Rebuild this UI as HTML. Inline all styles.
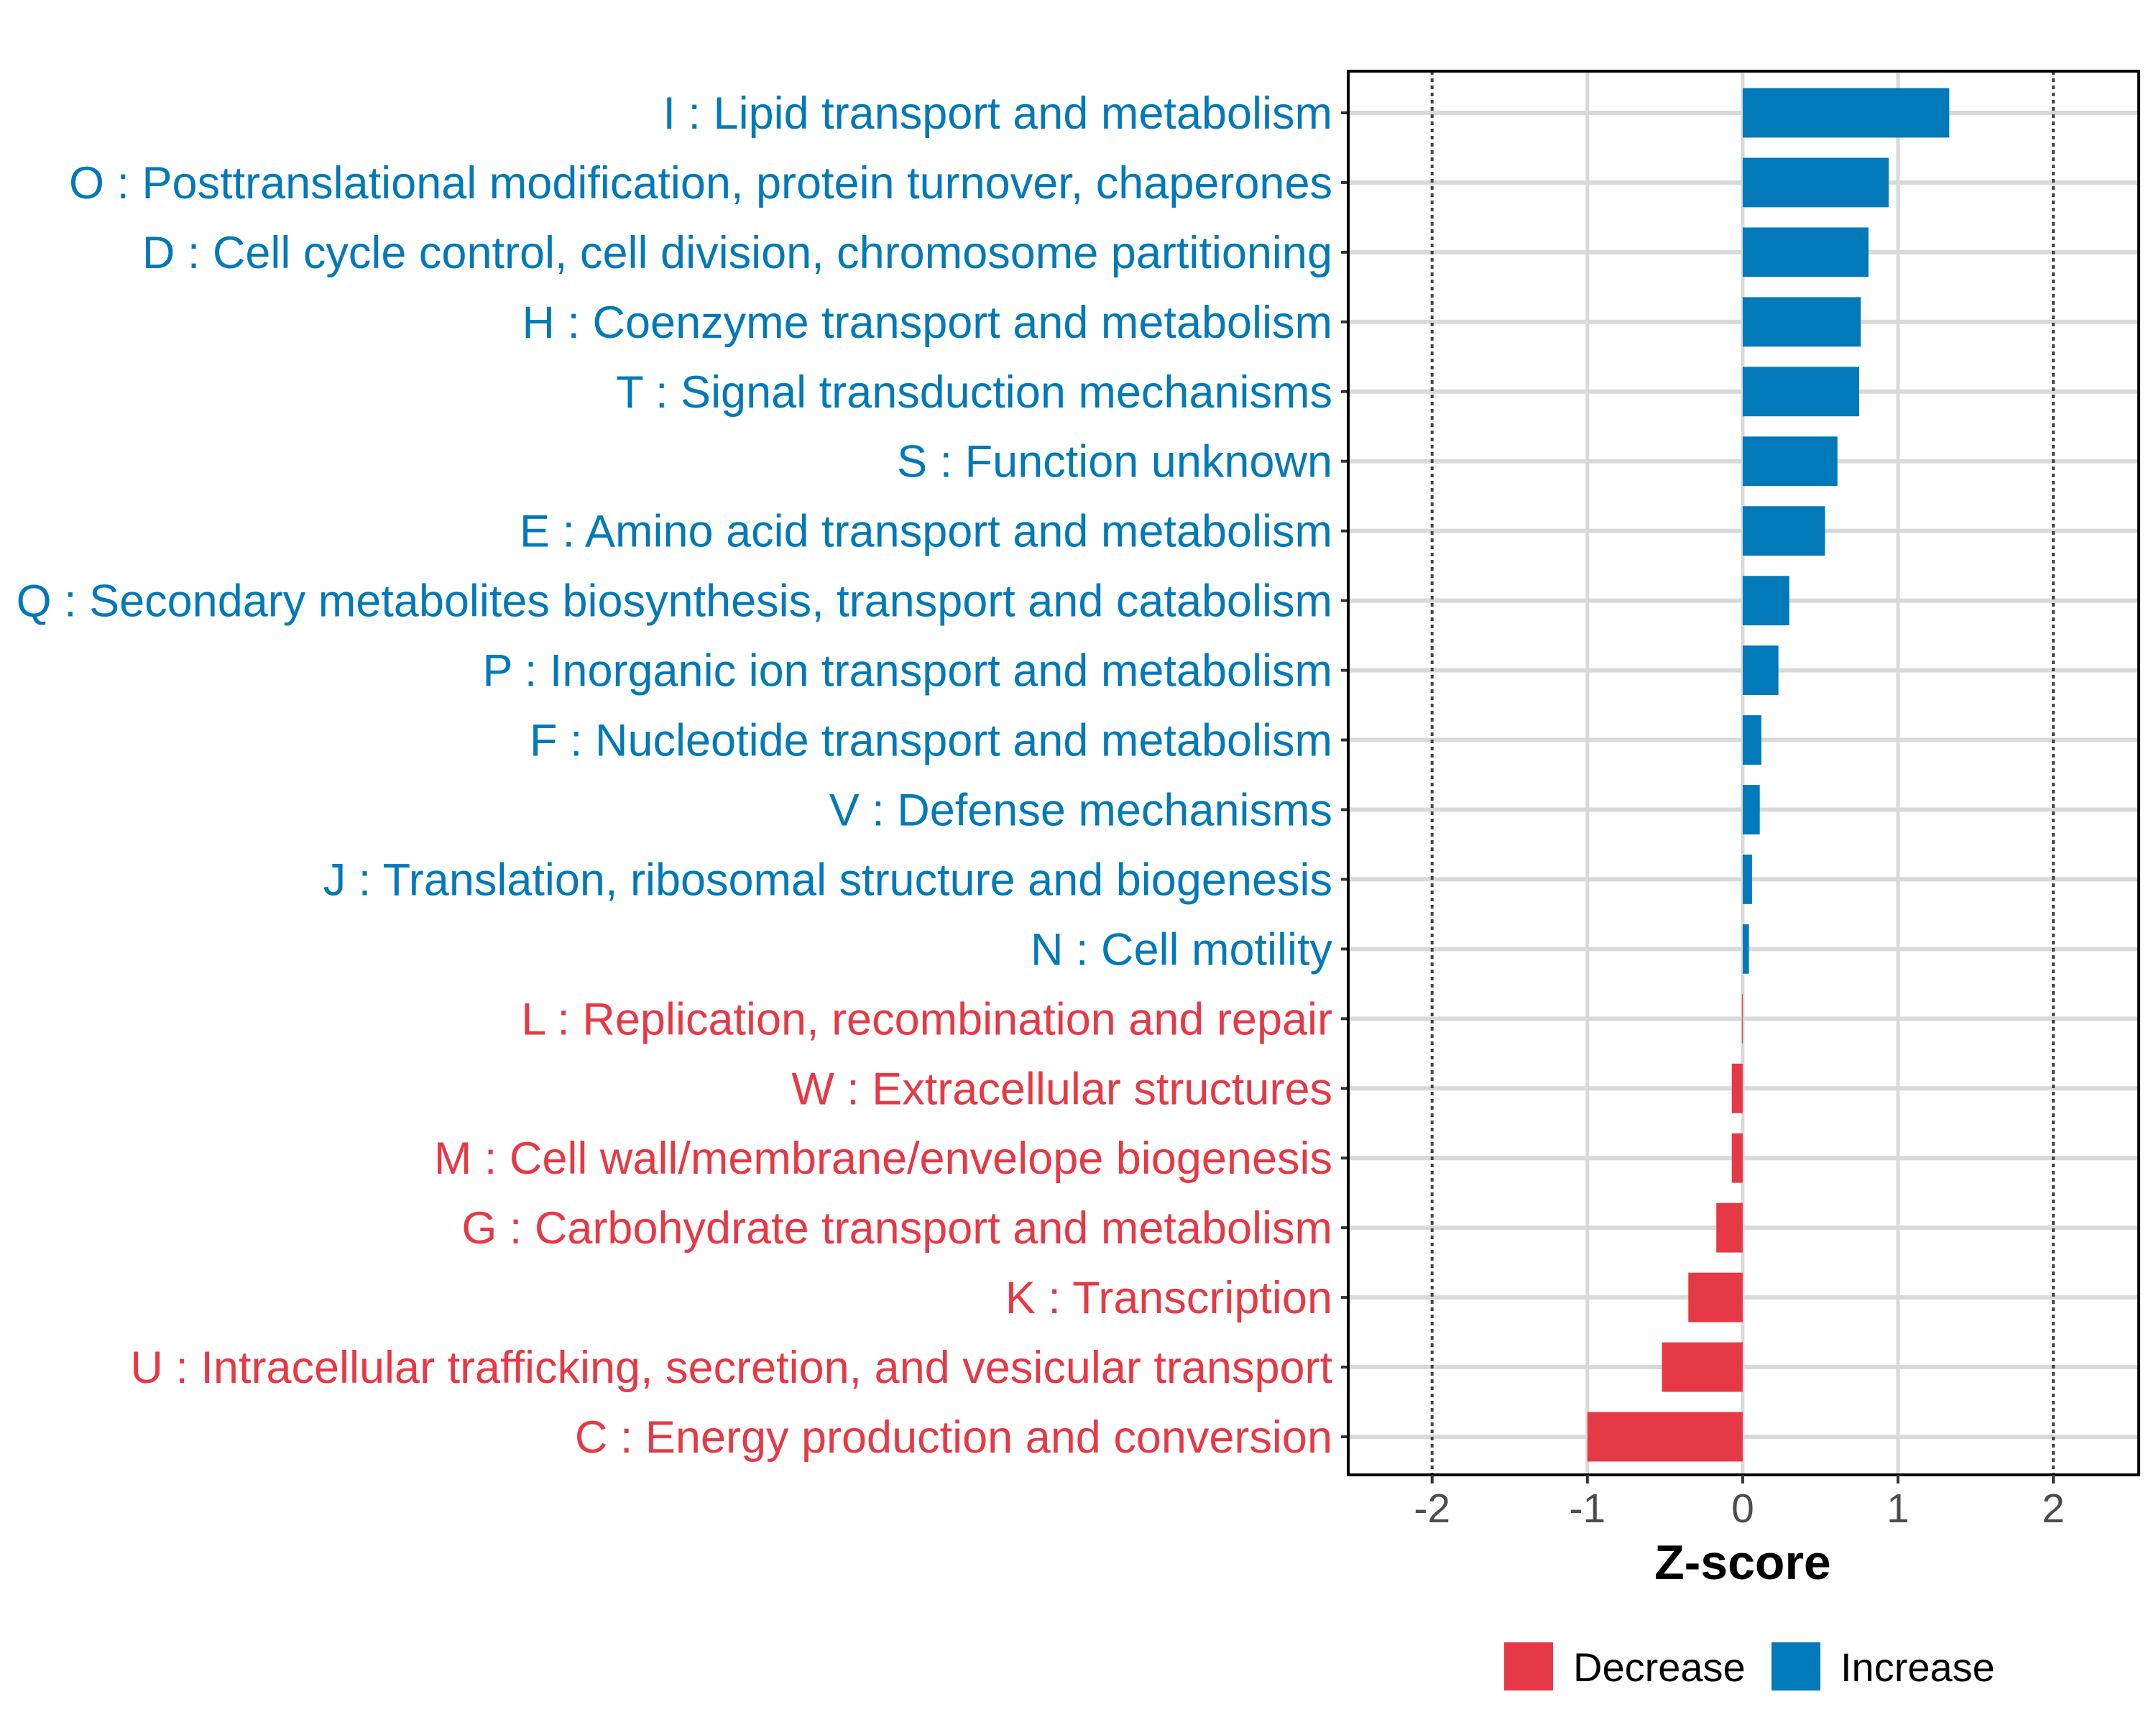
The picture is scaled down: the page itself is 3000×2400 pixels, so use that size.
<!DOCTYPE html>
<html><head><meta charset="utf-8"><style>html,body{margin:0;padding:0;background:#fff}svg{display:block}</style></head>
<body>
<svg id="chart" width="3000" height="2400" xmlns="http://www.w3.org/2000/svg" font-family="Liberation Sans, sans-serif"></svg>
<script>
const categories = ["I : Lipid transport and metabolism","O : Posttranslational modification, protein turnover, chaperones","D : Cell cycle control, cell division, chromosome partitioning","H : Coenzyme transport and metabolism","T : Signal transduction mechanisms","S : Function unknown","E : Amino acid transport and metabolism","Q : Secondary metabolites biosynthesis, transport and catabolism","P : Inorganic ion transport and metabolism","F : Nucleotide transport and metabolism","V : Defense mechanisms","J : Translation, ribosomal structure and biogenesis","N : Cell motility","L : Replication, recombination and repair","W : Extracellular structures","M : Cell wall/membrane/envelope biogenesis","G : Carbohydrate transport and metabolism","K : Transcription","U : Intracellular trafficking, secretion, and vesicular transport","C : Energy production and conversion"];
const zscores = [1.33,0.94,0.81,0.76,0.75,0.61,0.53,0.30,0.23,0.12,0.11,0.06,0.04,-0.005,-0.07,-0.07,-0.17,-0.35,-0.52,-1.0];
const xTicks = [-2,-1,0,1,2];
const xTickLabels = ["-2","-1","0","1","2"];
const refLines = [-2,2];

const NS="http://www.w3.org/2000/svg";
const svg=document.getElementById('chart');
const L=1876,R=2976,T=99,B=2052;
const xmin=-2.54,xmax=2.55;
const BLUE="#0279b8",RED="#e63946";
function x(v){return L+(v-xmin)/(xmax-xmin)*(R-L);}
const step=(1999-157)/19;
function y(i){return 157+i*step;}
function mk(tag,attrs,parent){const e=document.createElementNS(NS,tag);for(const k in attrs)e.setAttribute(k,attrs[k]);(parent||svg).appendChild(e);return e;}

const grid=mk('g',{});


xTicks.forEach(v=>{if(refLines.indexOf(v)<0){const l=mk('line',{x1:x(v),x2:x(v),y1:T,y2:B,stroke:'#d9d9d9','stroke-width':5},grid);}});
categories.forEach((c,i)=>{const l=mk('line',{x1:L,x2:R,y1:y(i),y2:y(i),stroke:'#d9d9d9','stroke-width':6},grid);});
refLines.forEach(v=>{const l=mk('line',{x1:x(v),x2:x(v),y1:T,y2:B,stroke:'#444','stroke-width':4,'stroke-dasharray':'5,5'});});

const bh=step*0.71;
categories.forEach((c,i)=>{
  const v=zscores[i];const col=v>=0?BLUE:RED;
  const r=mk('rect',{x:Math.min(x(0),x(v)),y:y(i)-bh/2,width:Math.max(Math.abs(x(v)-x(0)),1),height:bh,fill:col});
  
  
  const t=mk('text',{x:1854,y:y(i)+22,'text-anchor':'end','font-size':63,fill:col});
  t.textContent=c;
  
  
  const tk=mk('line',{x1:1866,x2:L,y1:y(i),y2:y(i),stroke:'#333','stroke-width':4});
  
  
});
const frame=mk('rect',{x:L,y:T,width:R-L,height:B-T,fill:'none',stroke:'#000','stroke-width':4});


xTicks.forEach((v,i)=>{
  const tk=mk('line',{x1:x(v),x2:x(v),y1:B,y2:B+12,stroke:'#333','stroke-width':4});
  
  
  const t=mk('text',{x:x(v),y:B+66,'text-anchor':'middle','font-size':57,fill:'#4d4d4d'});
  t.textContent=xTickLabels[i];
  
  
});
const xt=mk('text',{x:x(0),y:2197,'text-anchor':'middle','font-size':68,'font-weight':'bold',fill:'#000'});
xt.textContent='Z-score';



const lg=mk('g',{});


[[2093,RED,'Decrease'],[2465,BLUE,'Increase']].forEach(d=>{
  const r=mk('rect',{x:d[0],y:2285,width:68,height:67,fill:d[1]},lg);
  
  
  const t=mk('text',{x:d[0]+96,y:2339,'font-size':56,fill:'#000'},lg);
  t.textContent=d[2];
  
  
});
</script>
</body></html>
